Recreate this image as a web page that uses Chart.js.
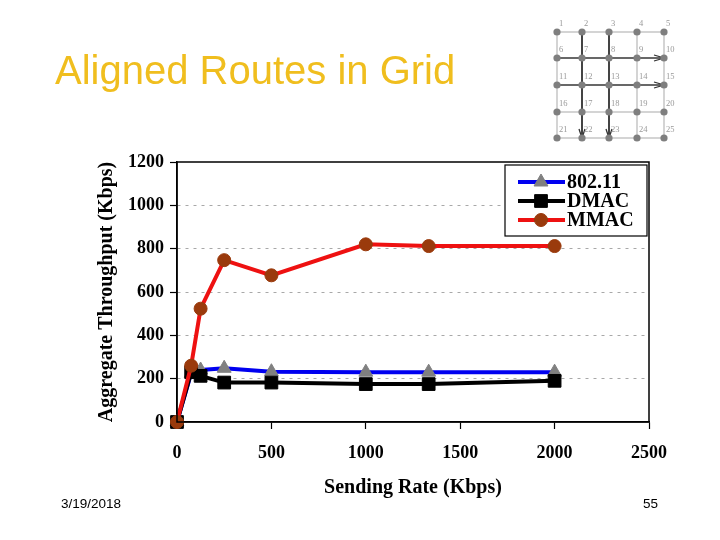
<!DOCTYPE html>
<html>
<head>
<meta charset="utf-8">
<script src="https://cdn.jsdelivr.net/npm/chart.js@4/dist/chart.umd.min.js"></script>
<style>
  html, body { margin:0; padding:0; background:#fff; }
  #wrap { position:relative; width:720px; height:540px; overflow:hidden; background:#fff; }
  #chart { position:absolute; left:0; top:0; }
  .title { position:absolute; left:55px; top:46px; font-family:"Liberation Sans", Arial, sans-serif; font-size:40px; color:#F0BE1E; white-space:nowrap; line-height:48px; }
  .foot { position:absolute; font-family:"Liberation Sans", Arial, sans-serif; font-size:13.5px; color:#000; line-height:16px; }
  #grid { position:absolute; left:540px; top:12px; }
</style>
</head>
<body>
<div id="wrap">
  <canvas id="chart" width="720" height="540"></canvas>
  <div class="title">Aligned Routes in Grid</div>
  <div class="foot" style="left:61px; top:496px;">3/19/2018</div>
  <div class="foot" style="left:643px; top:496px;">55</div>
  <svg id="grid" width="140" height="135" viewBox="540 12 140 135"></svg>
</div>
<script>
// ---- data ----
const sendingRates = [0, 75, 125, 250, 500, 1000, 1333, 2000];
const thr80211 = [0, 225, 240, 248, 232, 230, 230, 230];
const thrDMAC  = [0, 230, 213, 182, 182, 175, 175, 190];
const thrMMAC  = [0, 260, 523, 747, 677, 820, 812, 812];
const seriesLabels = ['802.11', 'DMAC', 'MMAC'];
const yTicks = [0, 200, 400, 600, 800, 1000, 1200];
const xTicks = [0, 500, 1000, 1500, 2000, 2500];

// ---- grid diagram (decoration) ----
(function(){
  const svg = document.getElementById('grid');
  const xs = [557, 582, 609, 637, 664];
  const ys = [32, 58, 85, 112, 138];
  let s = '';
  for (let r = 0; r < 5; r++) s += `<line x1="${xs[0]}" y1="${ys[r]}" x2="${xs[4]}" y2="${ys[r]}" stroke="#d4d4d4" stroke-width="2"/>`;
  for (let c = 0; c < 5; c++) s += `<line x1="${xs[c]}" y1="${ys[0]}" x2="${xs[c]}" y2="${ys[4]}" stroke="#d4d4d4" stroke-width="2"/>`;
  [1,2].forEach(c => {
    s += `<line x1="${xs[c]}" y1="${ys[0]}" x2="${xs[c]}" y2="${ys[4]}" stroke="#444" stroke-width="2"/>`;
    s += `<polyline points="${xs[c]-3},${ys[4]-9} ${xs[c]},${ys[4]} ${xs[c]+3},${ys[4]-9}" fill="none" stroke="#333" stroke-width="1.3"/>`;
  });
  [1,2].forEach(r => {
    s += `<line x1="${xs[0]}" y1="${ys[r]}" x2="${xs[4]}" y2="${ys[r]}" stroke="#444" stroke-width="1.5"/>`;
    s += `<polyline points="${xs[4]-10},${ys[r]-3} ${xs[4]},${ys[r]} ${xs[4]-10},${ys[r]+3}" fill="none" stroke="#333" stroke-width="1.3"/>`;
  });
  let n = 1;
  for (let r = 0; r < 5; r++) for (let c = 0; c < 5; c++) {
    s += `<circle cx="${xs[c]}" cy="${ys[r]}" r="3.6" fill="#7f7f7f"/>`;
    s += `<text x="${xs[c]+2}" y="${ys[r]-6}" font-family="Liberation Serif, serif" font-size="8.5" fill="#999">${n}</text>`;
    n++;
  }
  svg.innerHTML = s;
})();

// ---- chart ----
const serif = "'Times New Roman', 'Liberation Serif', serif";
function pts(ys){ return sendingRates.map((x,i)=>({x, y: ys[i]})); }

const legendPlugin = {
  id: 'boxLegend',
  afterDraw(chart) {
    const ctx = chart.ctx;
    const a = chart.chartArea;
    ctx.save();
    ctx.strokeStyle = '#000';
    ctx.lineWidth = 1.5;
    ctx.setLineDash([]);
    ctx.strokeRect(a.left, a.top, a.right - a.left, a.bottom - a.top);
    const bx = 505, by = 165, bw = 142, bh = 71;
    ctx.fillStyle = '#fff';
    ctx.fillRect(bx, by, bw, bh);
    ctx.lineWidth = 1.2;
    ctx.strokeRect(bx, by, bw, bh);
    const rows = [182, 201, 220];
    chart.data.datasets.forEach((ds, i) => {
      const y = rows[i];
      ctx.strokeStyle = ds.borderColor;
      ctx.lineWidth = 4;
      ctx.beginPath(); ctx.moveTo(518, y); ctx.lineTo(565, y); ctx.stroke();
      ctx.fillStyle = ds.pointBackgroundColor;
      ctx.strokeStyle = ds.pointBorderColor;
      ctx.lineWidth = 1;
      Chart.helpers.drawPoint(ctx, { pointStyle: ds.pointStyle, radius: ds.pointRadius, borderWidth: 1, rotation: 0 }, 541, y);
      ctx.fillStyle = '#000';
      ctx.font = 'bold 20px ' + serif;
      ctx.textAlign = 'left';
      ctx.textBaseline = 'middle';
      ctx.fillText(ds.label, 567, y + 1);
    });
    ctx.restore();
  }
};

new Chart(document.getElementById('chart'), {
  type: 'line',
  data: {
    datasets: [
      { label: seriesLabels[0], data: pts(thr80211), borderColor: '#0000F0', borderWidth: 4, clip: false,
        pointStyle: 'triangle', pointRadius: 8, pointBackgroundColor: '#808080', pointBorderColor: '#808080', pointBorderWidth: 1, order: 3 },
      { label: seriesLabels[1], data: pts(thrDMAC), borderColor: '#000000', borderWidth: 4, clip: false,
        pointStyle: 'rect', pointRadius: 9, pointBackgroundColor: '#000000', pointBorderColor: '#000000', pointBorderWidth: 1, order: 2 },
      { label: seriesLabels[2], data: pts(thrMMAC), borderColor: '#EE1111', borderWidth: 4, clip: false,
        pointStyle: 'circle', pointRadius: 6.5, pointBackgroundColor: '#9A3A0C', pointBorderColor: '#9A3A0C', pointBorderWidth: 1, order: 1 }
    ]
  },
  options: {
    responsive: false,
    animation: false,
    devicePixelRatio: 1,
    layout: { padding: { left: 95, right: 71, top: 162, bottom: 40 } },
    plugins: { legend: { display: false }, tooltip: { enabled: false } },
    elements: { line: { tension: 0 } },
    scales: {
      x: {
        type: 'linear', min: 0, max: 2500,
        afterBuildTicks(s){ s.ticks = xTicks.map(v => ({value: v})); },
        afterFit(s){ s.height = 78; },
        ticks: { color: '#000', font: { family: serif, size: 18, weight: 'bold' }, padding: 14, maxRotation: 0,
                 callback: v => String(v) },
        grid: { drawOnChartArea: false, drawTicks: true, tickLength: 7, tickColor: '#000', tickWidth: 1.2 },
        border: { display: true, color: '#000', width: 1.5 },
        title: { display: true, text: 'Sending Rate (Kbps)', color: '#000', font: { family: serif, size: 20, weight: 'bold' }, padding: 0 }
      },
      y: {
        type: 'linear', min: 0, max: 1200,
        afterBuildTicks(s){ s.ticks = yTicks.map(v => ({value: v})); },
        afterFit(s){ s.width = 82; },
        ticks: { color: '#000', font: { family: serif, size: 18, weight: 'bold' }, padding: 6,
                 callback: v => String(v) },
        grid: {
          color: ctx => (ctx.tick && (ctx.tick.value === 0 || ctx.tick.value === 1200)) ? 'rgba(0,0,0,0)' : '#a8a8a8',
          lineWidth: 1, tickBorderDash: [], tickColor: '#000', tickLength: 7, tickWidth: 1.2
        },
        border: { display: true, color: '#000', width: 1.5, dash: [3, 5] },
        title: { display: true, text: 'Aggregate Throughput (Kbps)', color: '#000', font: { family: serif, size: 20, weight: 'bold' }, padding: 0 }
      }
    }
  },
  plugins: [legendPlugin]
});
</script>
</body>
</html>
